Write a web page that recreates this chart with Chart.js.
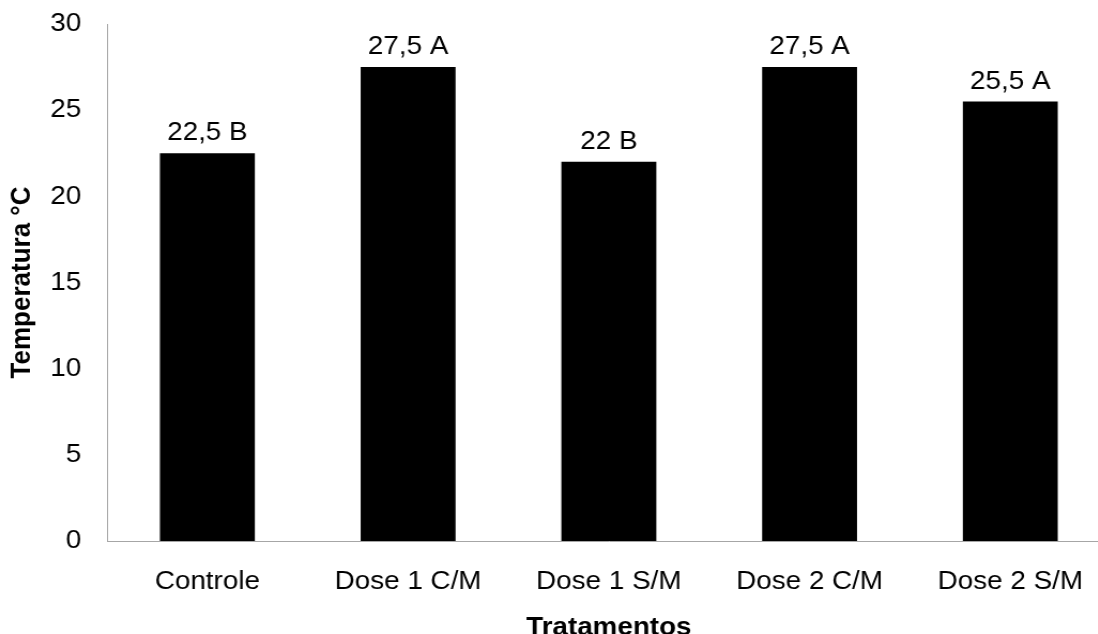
<!DOCTYPE html>
<html>
<head>
<meta charset="utf-8">
<script src="https://cdn.jsdelivr.net/npm/chart.js@4/dist/chart.umd.min.js"></script>
<style>
  html, body { margin: 0; padding: 0; background: #fff; overflow: hidden; width: 1098px; height: 634px; }
  #wrap { position: absolute; left: 0; top: 0; width: 1038px; height: 645px; transform: scaleX(1.07); transform-origin: 0 0; }
</style>
</head>
<body>
<div id="wrap"><canvas id="tempChart"></canvas></div>
<script>
const tratamentos = ['Controle', 'Dose 1 C/M', 'Dose 1 S/M', 'Dose 2 C/M', 'Dose 2 S/M'];
const temperaturas = [22.5, 27.5, 22, 27.5, 25.5];
const letras = ['B', 'A', 'B', 'A', 'A'];

const fontFamily = '"Liberation Sans", Arial, sans-serif';

// labels like "22,5 B" above each bar
const barLabels = {
  id: 'barLabels',
  afterDatasetsDraw(chart) {
    const ctx = chart.ctx;
    const meta = chart.getDatasetMeta(0);
    ctx.save();
    ctx.font = '26px ' + fontFamily;
    ctx.fillStyle = '#000';
    ctx.textAlign = 'center';
    ctx.textBaseline = 'alphabetic';
    meta.data.forEach((bar, i) => {
      const txt = String(temperaturas[i]).replace('.', ',') + ' ' + letras[i];
      ctx.fillText(txt, bar.x, bar.y - 13);
    });
    ctx.restore();
  }
};

new Chart(document.getElementById('tempChart'), {
  type: 'bar',
  data: {
    labels: tratamentos,
    datasets: [{
      data: temperaturas,
      backgroundColor: '#000',
      borderWidth: 0,
      barPercentage: 0.473,
      categoryPercentage: 1
    }]
  },
  options: {
    responsive: true,
    maintainAspectRatio: false,
    animation: false,
    layout: { padding: { top: 24, left: 0, right: 0, bottom: 0 } },
    plugins: { legend: { display: false }, tooltip: { enabled: false } },
    scales: {
      x: {
        grid: { display: false, drawTicks: false, tickLength: 0 },
        border: { display: true, color: '#a6a6a6', width: 1 },
        ticks: { color: '#000', padding: 25, font: { family: fontFamily, size: 26 } },
        title: {
          display: true, text: 'Tratamentos', color: '#000',
          font: { family: fontFamily, size: 26, weight: 'bold' },
          padding: { top: 0, bottom: 2 }
        },
        afterFit(scale) { scale.height = 104; }
      },
      y: {
        min: 0, max: 30,
        grid: { display: false, drawTicks: false, tickLength: 0 },
        border: { display: true, color: '#a6a6a6', width: 1 },
        ticks: { stepSize: 5, color: '#000', padding: 24, font: { family: fontFamily, size: 26 } },
        title: {
          display: true, text: 'Temperatura °C', color: '#000',
          font: { family: fontFamily, size: 26, weight: 'bold' },
          padding: { top: 5, bottom: 0 }
        },
        afterFit(scale) {
          scale.width = 100;
          scale.paddingTop = 0;
          scale.paddingBottom = 0;
        }
      }
    }
  },
  plugins: [barLabels]
});
</script>
</body>
</html>
